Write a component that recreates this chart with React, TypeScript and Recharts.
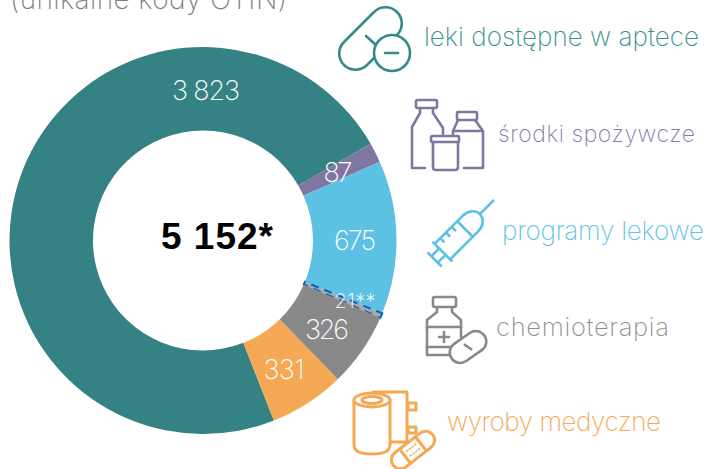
import React from 'react';
import { PieChart, Pie, Cell } from 'recharts';

const categories = ['leki dostępne w aptece', 'środki spożywcze', 'programy lekowe', 'programy lekowe (inne)', 'chemioterapia', 'wyroby medyczne'];
const values = [3823, 87, 675, 21, 326, 331];
const valueLabels = ['3 823', '87', '675', '21**', '326', '331'];
const colors = ['#358285', '#7f76a2', '#5dc1e3', '#0563c1', '#898989', '#f5a955'];
const totalLabel = '5 152*';
const titleLabel = '(unikalne kody OTIN)';

const data = categories.map((name, i) => ({ name, value: values[i] }));

const FONT = 'Inter, Lato, "Open Sans", sans-serif';
const labelSpots = [
  { x: 206, y: 90, s: 27, w: 68 },
  { x: 338, y: 172, s: 27, w: 29 },
  { x: 355, y: 240, s: 27, w: 42 },
  { x: 355, y: 301, s: 20, w: 41 },
  { x: 327, y: 329, s: 27, w: 44 },
  { x: 284, y: 369, s: 27, w: 41 },
];

const legendSpots = [
  { i: 0, x: 424, y: 46, s: 26, w: 275, c: '#3a8f8f' },
  { i: 1, x: 498, y: 142, s: 23, w: 197, c: '#857ca8' },
  { i: 2, x: 502, y: 240, s: 26, w: 202, c: '#62c4e6' },
  { i: 4, x: 496, y: 336, s: 25.5, w: 173, c: '#8f8f8f' },
  { i: 5, x: 447, y: 431, s: 26, w: 214, c: '#f5a955' },
];

const renderLabel = (p: any) => {
  const spot = labelSpots[p.index];
  return (
    <text
      x={spot.x}
      y={spot.y}
      fill="#fff"
      fontFamily={FONT}
      fontWeight={200}
      fontSize={spot.s}
      textAnchor="middle"
      dominantBaseline="central"
      textLength={spot.w}
      lengthAdjust="spacing"
    >
      {valueLabels[p.index]}
    </text>
  );
};

const Icons = () => (
  <g fill="none" strokeWidth={2.6} strokeLinecap="round" strokeLinejoin="round">
    <g stroke="#358a8a">
      <path d="M344 42 L374 12 A16 16 0 0 1 397 35 L367 65 A16 16 0 0 1 344 42 Z" fill="#fff" />
      <line x1="366" y1="36" x2="376" y2="45" />
      <circle cx="392" cy="53" r="18" fill="#fff" />
      <line x1="385" y1="53" x2="398" y2="53" />
    </g>
    <g stroke="#7f76a2">
      <rect x="416" y="100" width="21" height="8" rx="1.5" />
      <path d="M420 108 V113 L412 127 V168 H425" />
      <path d="M433 108 V113 L443 128 V134" />
      <rect x="457" y="112" width="20" height="8" rx="1" />
      <path d="M458 120 L453 131 V134 M475 120 L483 131 V168 H464 M453 131 H483" />
      <rect x="431" y="136" width="28" height="6" rx="1.5" />
      <path d="M433 142 V167 Q433 170 436 170 H455 Q458 170 458 167 V142" />
    </g>
    <g stroke="#5dc1e3" strokeLinecap="butt" transform="translate(494 200) rotate(135)">
      <line x1="0" y1="0" x2="20" y2="0" />
      <path d="M73 -11 H33 A13 11 0 0 0 33 11 H73" />
      <line x1="41" y1="-11" x2="41" y2="11" />
      <line x1="49" y1="11" x2="49" y2="5" />
      <line x1="57" y1="11" x2="57" y2="5" />
      <line x1="65" y1="11" x2="65" y2="5" />
      <line x1="73" y1="-14" x2="73" y2="14" />
      <line x1="73" y1="-4.5" x2="84" y2="-4.5" />
      <line x1="73" y1="4.5" x2="84" y2="4.5" />
      <line x1="84" y1="-10" x2="84" y2="10" />
    </g>
    <g stroke="#898989">
      <rect x="433" y="297" width="23" height="10" rx="2" />
      <path d="M437 307 V312 L427 320 V355 H450" />
      <path d="M452 307 V312 L461 320 V337" />
      <line x1="427" y1="327" x2="461" y2="327" />
      <line x1="427" y1="347" x2="450" y2="347" />
      <path d="M444 332 V342 M439 337 H449" />
      <g transform="translate(468 347) rotate(-35)">
        <rect x="-20" y="-10.5" width="40" height="21" rx="10.5" fill="#fff" />
        <line x1="0" y1="-4" x2="0" y2="4" transform="rotate(-20)" />
      </g>
    </g>
    <g stroke="#f5a955" strokeWidth={3}>
      <path d="M373 392 H407 V442 H390" />
      <rect x="408" y="403" width="8" height="7" />
      <rect x="408" y="427" width="8" height="6" />
      <path d="M354 400 V445 Q354 454 372 454 Q390 454 390 445 V400" fill="#fff" />
      <ellipse cx="372" cy="400" rx="18" ry="7" fill="#fff" />
      <ellipse cx="372" cy="400" rx="10" ry="3.5" />
      <g transform="translate(413 450) rotate(-38)">
        <rect x="-25" y="-9" width="50" height="18" rx="9" fill="#fff" />
        <line x1="-10" y1="-9" x2="-10" y2="9" />
        <line x1="10" y1="-9" x2="10" y2="9" />
        <path d="M-6 -3 H6 M-6 3 H6" strokeDasharray="1.5 2" strokeWidth={1.4} />
      </g>
    </g>
  </g>
);

export default function App() {
  return (
    <div style={{ position: 'absolute', left: 0, top: 0, width: 707, height: 469, overflow: 'hidden', background: '#fff' }}>
      <div style={{ position: 'absolute', left: 0, top: 0 }}>
        <PieChart width={707} height={469} margin={{ top: 0, right: 0, bottom: 0, left: 0 }}>
          <Pie
            data={data}
            dataKey="value"
            nameKey="name"
            cx={203}
            cy={240.5}
            innerRadius={110}
            outerRadius={193.5}
            startAngle={-68.5}
            endAngle={-428.5}
            isAnimationActive={false}
            label={renderLabel}
            labelLine={false}
            stroke="none"
          >
            {data.map((d, i) => (
              <Cell
                key={d.name}
                fill={i === 3 ? '#a8a8a8' : colors[i]}
                stroke={i === 3 ? colors[3] : 'none'}
                strokeWidth={i === 3 ? 2 : 0}
                strokeDasharray={i === 3 ? '8 6' : undefined}
              />
            ))}
          </Pie>
        </PieChart>
      </div>
      <svg width={707} height={469} style={{ position: 'absolute', left: 0, top: 0, pointerEvents: 'none' }}>
        <text x={10} y={9} fontFamily={FONT} fontWeight={200} fontSize={28} fill="#808080" textLength={277} lengthAdjust="spacing">
          {titleLabel}
        </text>
        <text x={161} y={249} fontFamily='"Liberation Sans", Arial, sans-serif' fontWeight={700} fontSize={37} fill="#000" textLength={112} lengthAdjust="spacing">
          {totalLabel}
        </text>
        {legendSpots.map((l) => (
          <text key={l.i} x={l.x} y={l.y} fontFamily={FONT} fontWeight={250} fontSize={l.s} fill={l.c} textLength={l.w} lengthAdjust="spacing">
            {categories[l.i]}
          </text>
        ))}
        <Icons />
      </svg>
    </div>
  );
}
